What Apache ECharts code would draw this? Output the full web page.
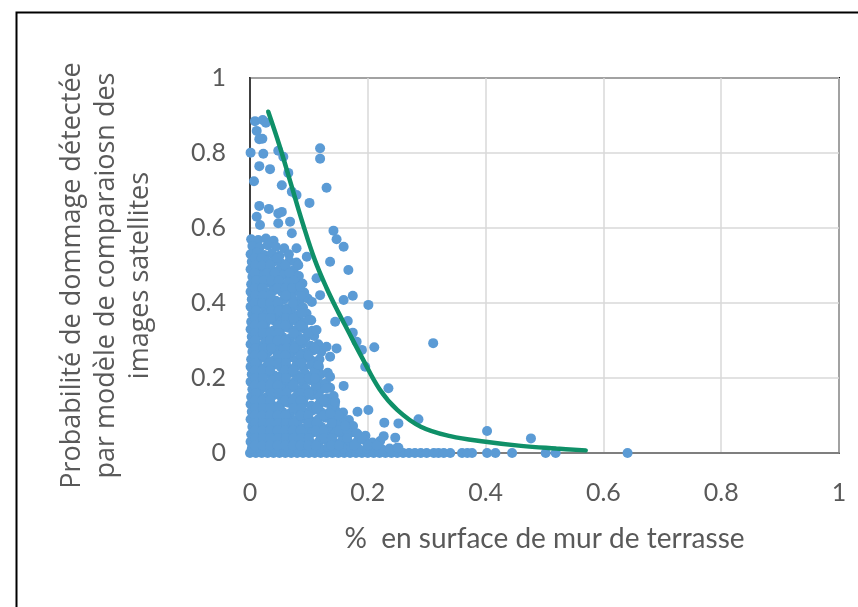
<!DOCTYPE html>
<html><head><meta charset="utf-8">
<script src="https://cdn.jsdelivr.net/npm/echarts@6/dist/echarts.min.js"></script>
<style>html,body{margin:0;padding:0;background:#fff}#c{width:858px;height:607px}</style>
</head><body><div id="c"></div>
<script>
const xTitle = '%  en surface de mur de terrasse';
const yTitle = 'Probabilité de dommage détectée\npar modèle de comparaiosn des\nimages satellites';
const xTicks = [0, 0.2, 0.4, 0.6, 0.8, 1];
const yTicks = [0, 0.2, 0.4, 0.6, 0.8, 1];

// dense cluster of observations (x, y)
const clusterPoints = [
[0.002,0.57],[0.014,0.568],[0.027,0.572],[0.04,0.566],
[0.004,0.552],[0.016,0.548],[0.03,0.554],[0.044,0.55],[0.058,0.546],
[0.001,0.53],[0.012,0.534],[0.024,0.528],[0.037,0.532],[0.05,0.526],[0.066,0.53],
[0.003,0.51],[0.015,0.508],[0.027,0.514],[0.04,0.51],[0.053,0.506],[0.067,0.512],[0.079,0.508],
[0.001,0.49],[0.011,0.488],[0.023,0.494],[0.036,0.49],[0.048,0.486],[0.061,0.492],[0.074,0.488],
[0.004,0.47],[0.017,0.472],[0.03,0.466],[0.043,0.47],[0.056,0.474],[0.069,0.468],[0.083,0.472],
[0.002,0.45],[0.013,0.448],[0.026,0.452],[0.039,0.446],[0.052,0.45],[0.064,0.454],[0.077,0.448],[0.089,0.452],
[0.001,0.43],[0.015,0.432],[0.028,0.428],[0.041,0.434],[0.054,0.43],[0.068,0.426],[0.081,0.432],[0.092,0.428],
[0.003,0.41],[0.016,0.408],[0.03,0.412],[0.044,0.406],[0.058,0.41],[0.071,0.414],[0.085,0.408],[0.098,0.412],
[0.001,0.39],[0.012,0.392],[0.025,0.388],[0.038,0.394],[0.05,0.39],[0.063,0.386],[0.077,0.392],[0.09,0.388],
[0.004,0.37],[0.017,0.368],[0.03,0.372],[0.043,0.366],[0.057,0.37],[0.07,0.374],[0.083,0.368],[0.096,0.372],
[0.002,0.35],[0.014,0.352],[0.027,0.348],[0.04,0.354],[0.053,0.35],[0.066,0.346],[0.079,0.352],[0.092,0.348],[0.104,0.354],
[0.001,0.33],[0.013,0.328],[0.026,0.332],[0.039,0.326],[0.052,0.33],[0.065,0.334],[0.078,0.328],[0.091,0.332],[0.106,0.326],
[0.003,0.31],[0.016,0.312],[0.029,0.308],[0.042,0.314],[0.055,0.31],[0.068,0.306],[0.081,0.312],[0.095,0.308],[0.109,0.312],
[0.001,0.29],[0.012,0.288],[0.025,0.292],[0.038,0.286],[0.051,0.29],[0.064,0.294],[0.077,0.288],[0.09,0.292],[0.103,0.286],[0.116,0.29],
[0.004,0.27],[0.017,0.272],[0.03,0.268],[0.043,0.274],[0.056,0.27],[0.069,0.266],[0.082,0.272],[0.095,0.268],[0.108,0.274],[0.121,0.27],
[0.002,0.25],[0.014,0.248],[0.027,0.252],[0.04,0.246],[0.053,0.25],[0.066,0.254],[0.079,0.248],[0.092,0.252],[0.105,0.246],[0.118,0.25],
[0.001,0.23],[0.013,0.232],[0.026,0.228],[0.039,0.234],[0.052,0.23],[0.065,0.226],[0.078,0.232],[0.091,0.228],[0.104,0.234],[0.117,0.23],
[0.003,0.21],[0.016,0.208],[0.029,0.212],[0.042,0.206],[0.055,0.21],[0.068,0.214],[0.081,0.208],[0.094,0.212],[0.107,0.206],[0.12,0.21],[0.132,0.214],
[0.001,0.19],[0.012,0.192],[0.025,0.188],[0.038,0.194],[0.051,0.19],[0.064,0.186],[0.077,0.192],[0.09,0.188],[0.103,0.194],[0.116,0.19],[0.129,0.186],
[0.004,0.17],[0.017,0.168],[0.03,0.172],[0.043,0.166],[0.056,0.17],[0.069,0.174],[0.082,0.168],[0.095,0.172],[0.108,0.166],[0.121,0.17],[0.136,0.174],
[0.002,0.15],[0.014,0.152],[0.027,0.148],[0.04,0.154],[0.053,0.15],[0.066,0.146],[0.079,0.152],[0.092,0.148],[0.105,0.154],[0.118,0.15],[0.131,0.146],[0.142,0.152],
[0.001,0.13],[0.013,0.128],[0.026,0.132],[0.039,0.126],[0.052,0.13],[0.065,0.134],[0.078,0.128],[0.091,0.132],[0.104,0.126],[0.117,0.13],[0.13,0.134],[0.144,0.128],
[0.003,0.11],[0.016,0.112],[0.029,0.108],[0.042,0.114],[0.055,0.11],[0.068,0.106],[0.081,0.112],[0.094,0.108],[0.107,0.114],[0.12,0.11],[0.133,0.106],[0.146,0.112],[0.158,0.108],
[0.001,0.09],[0.012,0.088],[0.025,0.092],[0.038,0.086],[0.051,0.09],[0.064,0.094],[0.077,0.088],[0.09,0.092],[0.103,0.086],[0.116,0.09],[0.129,0.094],[0.142,0.088],[0.155,0.092],[0.168,0.088],
[0.004,0.07],[0.017,0.072],[0.03,0.068],[0.043,0.074],[0.056,0.07],[0.069,0.066],[0.082,0.072],[0.095,0.068],[0.108,0.074],[0.121,0.07],[0.134,0.066],[0.147,0.072],[0.16,0.068],[0.175,0.072],
[0.002,0.05],[0.014,0.052],[0.027,0.048],[0.04,0.054],[0.053,0.05],[0.066,0.046],[0.079,0.052],[0.092,0.048],[0.105,0.054],[0.118,0.05],[0.131,0.046],[0.144,0.052],[0.157,0.048],[0.17,0.054],[0.183,0.05],[0.196,0.046],
[0.001,0.03],[0.013,0.028],[0.026,0.032],[0.039,0.026],[0.052,0.03],[0.065,0.034],[0.078,0.028],[0.091,0.032],[0.104,0.026],[0.117,0.03],[0.13,0.034],[0.143,0.028],[0.156,0.032],[0.169,0.026],[0.182,0.03],[0.195,0.034],[0.208,0.028],[0.221,0.032],
[0.003,0.012],[0.016,0.014],[0.029,0.01],[0.042,0.012],[0.055,0.016],[0.068,0.01],[0.081,0.012],[0.094,0.014],[0.107,0.01],[0.12,0.012],[0.133,0.016],[0.146,0.01],[0.159,0.012],[0.172,0.014],[0.185,0.01],[0.198,0.012],[0.211,0.016],[0.224,0.01],[0.237,0.012],[0.25,0.014]
];

// further observations filling the dense cluster
const clusterPoints2 = [
[0.008,0.52],[0.02,0.52],[0.046,0.52],
[0.009,0.50],[0.021,0.50],[0.034,0.50],[0.06,0.50],
[0.008,0.48],[0.029,0.48],[0.042,0.48],[0.067,0.48],
[0.01,0.46],[0.023,0.46],[0.036,0.46],[0.049,0.46],[0.075,0.46],
[0.008,0.44],[0.021,0.44],[0.047,0.44],[0.06,0.44],[0.072,0.44],
[0.009,0.42],[0.022,0.42],[0.035,0.42],[0.061,0.42],[0.087,0.42],
[0.008,0.40],[0.021,0.40],[0.034,0.40],[0.047,0.40],[0.073,0.40],
[0.01,0.38],[0.036,0.38],[0.049,0.38],[0.062,0.38],[0.088,0.38],
[0.009,0.36],[0.022,0.36],[0.035,0.36],[0.061,0.36],[0.074,0.36],
[0.008,0.34],[0.021,0.34],[0.047,0.34],[0.06,0.34],[0.086,0.34],
[0.009,0.32],[0.022,0.32],[0.035,0.32],[0.048,0.32],[0.074,0.32],[0.1,0.32],
[0.008,0.30],[0.034,0.30],[0.047,0.30],[0.06,0.30],[0.086,0.30],
[0.01,0.28],[0.023,0.28],[0.036,0.28],[0.062,0.28],[0.075,0.28],[0.11,0.28],
[0.008,0.26],[0.021,0.26],[0.047,0.26],[0.06,0.26],[0.086,0.26],[0.099,0.26],
[0.009,0.24],[0.035,0.24],[0.048,0.24],[0.061,0.24],[0.087,0.24],
[0.008,0.22],[0.021,0.22],[0.034,0.22],[0.06,0.22],[0.073,0.22],[0.11,0.22],
[0.009,0.20],[0.022,0.20],[0.048,0.20],[0.061,0.20],[0.087,0.20],[0.1,0.20],
[0.008,0.18],[0.021,0.18],[0.034,0.18],[0.047,0.18],[0.073,0.18],[0.112,0.18],
[0.01,0.16],[0.036,0.16],[0.049,0.16],[0.062,0.16],[0.088,0.16],[0.1,0.16],
[0.008,0.14],[0.021,0.14],[0.034,0.14],[0.06,0.14],[0.073,0.14],[0.086,0.14],[0.125,0.14],
[0.009,0.12],[0.022,0.12],[0.035,0.12],[0.048,0.12],[0.074,0.12],[0.087,0.12],[0.113,0.12],[0.139,0.12],
[0.008,0.10],[0.021,0.10],[0.034,0.10],[0.047,0.10],[0.06,0.10],[0.086,0.10],[0.099,0.10],[0.125,0.10],[0.15,0.10],
[0.009,0.08],[0.022,0.08],[0.035,0.08],[0.048,0.08],[0.061,0.08],[0.074,0.08],[0.1,0.08],[0.113,0.08],[0.139,0.08],[0.16,0.08],
[0.008,0.06],[0.021,0.06],[0.034,0.06],[0.047,0.06],[0.06,0.06],[0.073,0.06],[0.086,0.06],[0.112,0.06],[0.125,0.06],[0.151,0.06],[0.165,0.06],
[0.009,0.04],[0.022,0.04],[0.035,0.04],[0.048,0.04],[0.061,0.04],[0.074,0.04],[0.087,0.04],[0.1,0.04],[0.126,0.04],[0.139,0.04],[0.165,0.04],[0.19,0.04],
[0.008,0.02],[0.021,0.02],[0.034,0.02],[0.047,0.02],[0.06,0.02],[0.073,0.02],[0.086,0.02],[0.099,0.02],[0.112,0.02],[0.138,0.02],[0.151,0.02],[0.177,0.02],[0.2,0.02],[0.215,0.02]
];

// observations with zero detected probability
const zeroPoints = [
[0,0],[0.01,0],[0.02,0],[0.03,0],[0.04,0],[0.05,0],[0.06,0],[0.07,0],[0.08,0],[0.09,0],[0.1,0],
[0.11,0],[0.12,0],[0.13,0],[0.14,0],[0.15,0],[0.16,0],[0.17,0],[0.18,0],[0.19,0],[0.2,0],
[0.21,0],[0.22,0],[0.23,0],[0.24,0],[0.25,0],[0.26,0],[0.27,0],[0.28,0],[0.29,0],[0.3,0],
[0.312,0],[0.32,0],[0.329,0],[0.34,0],[0.36,0],[0.369,0],[0.377,0],[0.4025,0],[0.4167,0],[0.445,0],[0.502,0],[0.519,0],[0.641,0]
];

// scattered observations outside the dense cluster
const sparsePoints = [
[0.0085,0.885],[0.0216,0.888],[0.027,0.881],[0.0114,0.859],[0.0158,0.837],[0.021,0.838],[0.001,0.801],[0.0226,0.798],
[0.048,0.806],[0.0566,0.79],[0.0158,0.765],[0.034,0.757],[0.119,0.8125],[0.119,0.785],[0.0068,0.7245],[0.054,0.714],
[0.065,0.747],[0.079,0.688],[0.071,0.697],[0.101,0.667],[0.13,0.7075],[0.0158,0.659],[0.032,0.651],[0.048,0.639],
[0.054,0.643],[0.0114,0.63],[0.048,0.6125],[0.068,0.617],[0.071,0.586],[0.017,0.608],[0.1417,0.593],[0.147,0.57],
[0.159,0.55],[0.079,0.546],[0.136,0.51],[0.167,0.488],[0.082,0.501],[0.159,0.408],[0.1745,0.4195],[0.201,0.395],
[0.1446,0.35],[0.166,0.352],[0.1745,0.321],[0.181,0.297],[0.19,0.275],[0.211,0.282],[0.1956,0.23],[0.159,0.179],
[0.235,0.1725],[0.1825,0.11],[0.201,0.1147],[0.228,0.081],[0.252,0.079],[0.286,0.09],[0.227,0.045],[0.2466,0.041],
[0.252,0.014],[0.181,0.0525],[0.1616,0.073],[0.136,0.257],[0.136,0.2035],[0.147,0.279],[0.116,0.235],[0.1105,0.199],
[0.13,0.1725],[0.1446,0.137],[0.136,0.106],[0.0964,0.5235],[0.085,0.4435],[0.113,0.466],[0.105,0.403],[0.119,0.421],
[0.088,0.3725],[0.102,0.355],[0.113,0.328],[0.13,0.2835],[0.311,0.293],[0.4025,0.0587],[0.477,0.039]
];

// trend line
const trendX = [0.031,0.05,0.07,0.09,0.11,0.13,0.15,0.165,0.19,0.22,0.25,0.29,0.34,0.40,0.46,0.52,0.57];
const trendY = [0.91,0.82,0.715,0.61,0.515,0.44,0.375,0.33,0.255,0.17,0.115,0.07,0.045,0.030,0.019,0.012,0.007];

const chart = echarts.init(document.getElementById('c'), null, {renderer: 'canvas'});
const trend = trendX.map((x, i) => [x, trendY[i]]);
const tickFont = 'Lato, "Liberation Sans", sans-serif';
const dot = {color: '#5b9bd5', opacity: 1};

chart.setOption({
  animation: false,
  backgroundColor: '#fff',
  graphic: [{
    type: 'rect', left: 14, top: 10, z: 100, silent: true,
    shape: {width: 900, height: 700},
    style: {fill: 'none', stroke: '#000', lineWidth: 2}
  }],
  grid: {left: 250, right: 19, top: 78, bottom: 154, show: true,
         borderColor: '#000', borderWidth: 2, containLabel: false},
  xAxis: {
    type: 'value', min: 0, max: 1, interval: 0.2,
    name: xTitle, nameLocation: 'middle', nameGap: 72,
    nameTextStyle: {fontFamily: tickFont, fontSize: 28, color: '#595959'},
    axisLine: {show: true, lineStyle: {color: '#7f7f7f', width: 2}},
    axisTick: {show: false},
    axisLabel: {fontFamily: tickFont, fontSize: 25, color: '#595959', margin: 27,
      formatter: v => xTicks.includes(+v.toFixed(2)) ? String(+v.toFixed(2)) : ''},
    splitLine: {show: true, lineStyle: {color: '#d9d9d9', width: 1.5}}
  },
  yAxis: {
    type: 'value', min: 0, max: 1, interval: 0.2,
    name: yTitle, nameLocation: 'middle', nameGap: 93, nameRotate: 90,
    nameTextStyle: {fontFamily: '"Open Sans", sans-serif', fontSize: 27, color: '#595959',
      lineHeight: 34, align: 'center', padding: [0, 20, 0, 0]},
    axisLine: {show: true, lineStyle: {color: '#404040', width: 2}},
    axisTick: {show: false},
    axisLabel: {fontFamily: tickFont, fontSize: 25, color: '#595959', margin: 24,
      formatter: v => yTicks.includes(+v.toFixed(2)) ? String(+v.toFixed(2)) : ''},
    splitLine: {show: true, lineStyle: {color: '#d9d9d9', width: 1.5}}
  },
  series: [
    {type: 'scatter', data: zeroPoints, symbolSize: 10, itemStyle: dot, clip: false, z: 3},
    {type: 'scatter', data: clusterPoints, symbolSize: 10, itemStyle: dot, clip: false, z: 3},
    {type: 'scatter', data: clusterPoints2, symbolSize: 10, itemStyle: dot, clip: false, z: 3},
    {type: 'scatter', data: sparsePoints, symbolSize: 10, itemStyle: dot, clip: false, z: 3},
    {type: 'line', data: trend, smooth: 0.4, showSymbol: false, symbol: 'none', z: 5,
      lineStyle: {color: '#0f9068', width: 4.5, cap: 'round'}}
  ]
});
</script></body></html>
